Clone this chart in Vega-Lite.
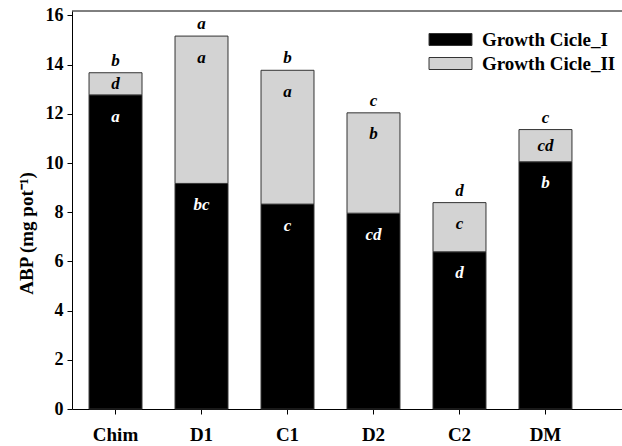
{
  "$schema": "https://vega.github.io/schema/vega-lite/v6.json",
  "width": 550,
  "height": 398,
  "autosize": "none",
  "padding": {"left": 72, "top": 11, "right": 0, "bottom": 37},
  "background": "white",
  "config": {"view": {"stroke": null}, "font": "Liberation Serif"},
  "datasets": {
    "cycles": [
      {"treatment": "Chim", "cycle": "Growth Cicle_I", "value": 12.77, "letter": "a", "order": 1},
      {"treatment": "Chim", "cycle": "Growth Cicle_II", "value": 0.9, "letter": "d", "order": 2},
      {"treatment": "D1", "cycle": "Growth Cicle_I", "value": 9.17, "letter": "bc", "order": 1},
      {"treatment": "D1", "cycle": "Growth Cicle_II", "value": 5.99, "letter": "a", "order": 2},
      {"treatment": "C1", "cycle": "Growth Cicle_I", "value": 8.33, "letter": "c", "order": 1},
      {"treatment": "C1", "cycle": "Growth Cicle_II", "value": 5.44, "letter": "a", "order": 2},
      {"treatment": "D2", "cycle": "Growth Cicle_I", "value": 7.96, "letter": "cd", "order": 1},
      {"treatment": "D2", "cycle": "Growth Cicle_II", "value": 4.08, "letter": "b", "order": 2},
      {"treatment": "C2", "cycle": "Growth Cicle_I", "value": 6.39, "letter": "d", "order": 1},
      {"treatment": "C2", "cycle": "Growth Cicle_II", "value": 2.0, "letter": "c", "order": 2},
      {"treatment": "DM", "cycle": "Growth Cicle_I", "value": 10.05, "letter": "b", "order": 1},
      {"treatment": "DM", "cycle": "Growth Cicle_II", "value": 1.31, "letter": "cd", "order": 2}
    ],
    "tops": [
      {"treatment": "Chim", "total": 13.67, "letter": "b"},
      {"treatment": "D1", "total": 15.16, "letter": "a"},
      {"treatment": "C1", "total": 13.77, "letter": "b"},
      {"treatment": "D2", "total": 12.04, "letter": "c"},
      {"treatment": "C2", "total": 8.39, "letter": "d"},
      {"treatment": "DM", "total": 11.36, "letter": "c"}
    ]
  },
  "layer": [
    {
      "data": {"name": "cycles"},
      "transform": [
        {"stack": "value", "groupby": ["treatment"], "sort": [{"field": "order", "order": "ascending"}], "as": ["v0", "v1"]},
        {"calculate": "max(datum.v1 - 0.88, (datum.v0 + datum.v1) / 2)", "as": "ly"}
      ],
      "layer": [
        {
          "mark": {"type": "bar", "stroke": "#333333", "strokeWidth": 1},
          "encoding": {
            "x": {
              "field": "treatment", "type": "nominal",
              "sort": ["Chim", "D1", "C1", "D2", "C2", "DM"],
              "scale": {"paddingInner": 0.384, "paddingOuter": 0.39, "align": 0.254},
              "axis": {
                "title": null, "labelAngle": 0, "labelFont": "Liberation Serif", "labelFontSize": 19,
                "labelFontWeight": "bold", "labelColor": "black", "labelPadding": 11,
                "tickSize": 5, "tickColor": "black", "domainColor": "black", "domainWidth": 1
              }
            },
            "y": {
              "field": "v1", "type": "quantitative",
              "scale": {"domain": [0, 16.18], "nice": false, "zero": true},
              "axis": {
                "values": [0, 2, 4, 6, 8, 10, 12, 14, 16], "grid": false,
                "title": "ABP (mg pot⁻¹)", "titleFont": "Liberation Serif", "titleFontSize": 19,
                "titleFontWeight": "bold", "titleColor": "black", "titlePadding": 9, "titleY": 222,
                "labelFont": "Liberation Serif", "labelFontSize": 18, "labelFontWeight": "bold",
                "labelColor": "black", "labelPadding": 4,
                "tickSize": 5, "tickColor": "black", "domainColor": "black", "domainWidth": 1
              }
            },
            "y2": {"field": "v0"},
            "color": {
              "field": "cycle", "type": "nominal",
              "scale": {"domain": ["Growth Cicle_I", "Growth Cicle_II"], "range": ["#000000", "#d3d3d3"]},
              "legend": {
                "title": null, "orient": "none", "legendX": 369, "legendY": 19,
                "padding": 0, "symbolType": "M-3.58,-1H3.58V1H-3.58Z", "symbolSize": 144,
                "symbolStrokeColor": "#333333", "symbolStrokeWidth": 1, "symbolOpacity": 1,
                "labelFont": "Liberation Serif", "labelFontSize": 19, "labelFontWeight": "bold",
                "labelColor": "black", "labelOffset": 22, "labelLimit": 0, "rowPadding": 4
              }
            }
          }
        },
        {
          "mark": {"type": "text", "font": "Liberation Serif", "fontSize": 17, "fontWeight": "bold", "fontStyle": "italic", "baseline": "middle", "align": "center"},
          "encoding": {
            "x": {"field": "treatment", "type": "nominal", "sort": ["Chim", "D1", "C1", "D2", "C2", "DM"]},
            "y": {"field": "ly", "type": "quantitative"},
            "text": {"field": "letter"},
            "color": {"condition": {"test": "datum.cycle == 'Growth Cicle_I'", "value": "white"}, "value": "black"}
          }
        }
      ]
    },
    {
      "data": {"name": "tops"},
      "mark": {"type": "text", "font": "Liberation Serif", "fontSize": 17, "fontWeight": "bold", "fontStyle": "italic", "baseline": "alphabetic", "align": "center", "dy": -7, "color": "black"},
      "encoding": {
        "x": {"field": "treatment", "type": "nominal", "sort": ["Chim", "D1", "C1", "D2", "C2", "DM"]},
        "y": {"field": "total", "type": "quantitative"},
        "text": {"field": "letter"}
      }
    },
    {
      "data": {"values": [{}]},
      "mark": {"type": "rule", "color": "black", "strokeWidth": 1},
      "encoding": {"y": {"datum": 16.18}}
    }
  ]
}
